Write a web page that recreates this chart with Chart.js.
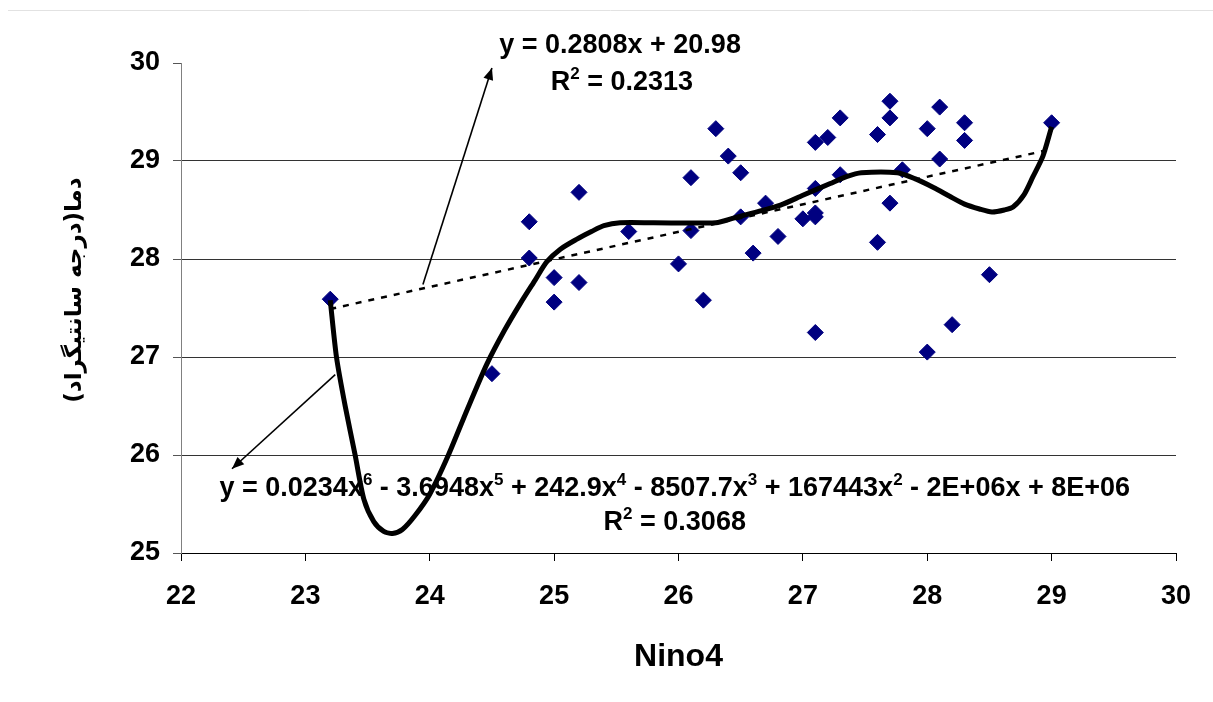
<!DOCTYPE html>
<html><head><meta charset="utf-8">
<script src="https://cdn.jsdelivr.net/npm/chart.js@4.4.1/dist/chart.umd.min.js"></script>
<style>html,body{margin:0;padding:0;background:#fff;}#wrap{width:1213px;height:702px;position:relative;}</style>
</head><body><div id="wrap"><canvas id="c" width="1213" height="702"></canvas></div>
<script>
// ---- data ----
const nino4 = [23.2,24.5,24.8,24.8,25.0,25.0,25.2,25.2,25.6,26.0,26.1,26.1,26.2,26.3,26.4,26.5,26.5,26.6,26.7,26.8,27.0,27.1,27.1,27.1,27.1,27.1,27.2,27.3,27.3,27.6,27.6,27.7,27.7,27.7,27.8,28.0,28.0,28.1,28.1,28.2,28.3,28.3,28.5,29.0];
const temperature = [27.59,26.83,28.38,28.01,27.81,27.56,28.68,27.76,28.28,27.95,28.83,28.29,27.58,29.33,29.05,28.88,28.43,28.06,28.57,28.23,28.41,29.19,28.72,28.47,28.43,27.25,29.24,29.44,28.86,29.27,28.17,29.61,29.44,28.57,28.91,29.33,27.05,29.55,29.02,27.33,29.39,29.21,27.84,29.39];
const linearTrendX = [23.2, 29.0];
const linearTrendY = [27.49, 29.12];
const polyTrendX = [23.2,23.25,23.32,23.4,23.47,23.55,23.63,23.7,23.78,23.88,24.0,24.15,24.3,24.46,24.6,24.73,24.85,24.94,25.05,25.18,25.3,25.4,25.53,25.8,26.3,26.45,26.6,26.82,27.0,27.22,27.35,27.47,27.76,27.9,28.05,28.18,28.3,28.42,28.52,28.62,28.69,28.78,28.85,28.93,29.0];
const polyTrendY = [27.58,27.0,26.5,26.0,25.55,25.32,25.22,25.2,25.24,25.38,25.6,26.0,26.46,26.93,27.27,27.55,27.79,27.97,28.1,28.2,28.28,28.34,28.37,28.37,28.37,28.42,28.47,28.55,28.65,28.77,28.84,28.88,28.88,28.82,28.73,28.64,28.56,28.51,28.48,28.5,28.53,28.66,28.84,29.05,29.35];
const xTickLabels = ['22','23','24','25','26','27','28','29','30'];
const yTickLabels = ['25','26','27','28','29','30'];
const xTitle = 'Nino4';
const yTitle = 'دما(درجه سانتیگراد)';
const linearEquation = [['y = 0.2808x + 20.98']];
const linearR2 = [['R'],['2','sup'],[' = 0.2313']];
const polyEquation = [['y = 0.0234x'],['6','sup'],[' - 3.6948x'],['5','sup'],[' + 242.9x'],['4','sup'],[' - 8507.7x'],['3','sup'],[' + 167443x'],['2','sup'],[' - 2E+06x + 8E+06']];
const polyR2 = [['R'],['2','sup'],[' = 0.3068']];

const toPts = (xs, ys) => xs.map((x, i) => ({x: x, y: ys[i]}));
const FONT = '"Liberation Sans", Arial, sans-serif';

function drawRich(ctx, segs, cx, cy, size) {
  const nf = 'bold ' + size + 'px ' + FONT;
  const sf = 'bold ' + Math.round(size * 0.62) + 'px ' + FONT;
  let total = 0;
  segs.forEach(s => { ctx.font = s[1] ? sf : nf; total += ctx.measureText(s[0]).width; });
  let x = cx - total / 2;
  ctx.textAlign = 'left';
  ctx.textBaseline = 'middle';
  segs.forEach(s => {
    ctx.font = s[1] ? sf : nf;
    ctx.fillText(s[0], x, s[1] ? cy - size * 0.3 : cy);
    x += ctx.measureText(s[0]).width;
  });
}
function arrow(ctx, x1, y1, x2, y2) {
  ctx.beginPath(); ctx.moveTo(x1, y1); ctx.lineTo(x2, y2); ctx.stroke();
  const a = Math.atan2(y2 - y1, x2 - x1), L = 12, W = 5;
  ctx.beginPath();
  ctx.moveTo(x2, y2);
  ctx.lineTo(x2 - L * Math.cos(a) + W * Math.sin(a), y2 - L * Math.sin(a) - W * Math.cos(a));
  ctx.lineTo(x2 - L * Math.cos(a) - W * Math.sin(a), y2 - L * Math.sin(a) + W * Math.cos(a));
  ctx.closePath(); ctx.fill();
}

const annot = {
  id: 'annot',
  beforeDraw(chart) {
    const ctx = chart.ctx;
    ctx.save();
    ctx.fillStyle = '#fff'; ctx.fillRect(0, 0, chart.width, chart.height);
    ctx.strokeStyle = '#e2e2e2'; ctx.lineWidth = 1;
    ctx.beginPath(); ctx.moveTo(8, 10.5); ctx.lineTo(chart.width, 10.5); ctx.stroke();
    ctx.restore();
  },
  afterDraw(chart) {
    const ctx = chart.ctx, xs = chart.scales.x, ys = chart.scales.y;
    const px = v => xs.getPixelForValue(v), py = v => ys.getPixelForValue(v);
    ctx.save();
    ctx.fillStyle = '#000'; ctx.strokeStyle = '#000'; ctx.lineWidth = 1.6;
    arrow(ctx, px(23.945), py(27.74), px(24.5), py(29.95));
    arrow(ctx, px(23.24), py(26.82), px(22.41), py(25.86));
    drawRich(ctx, linearEquation, px(25.53), py(30.18), 27);
    drawRich(ctx, linearR2, px(25.545), py(29.8), 27);
    drawRich(ctx, polyEquation, px(25.97), py(25.66), 27);
    drawRich(ctx, polyR2, px(25.97), py(25.31), 27);
    // y axis title
    ctx.translate(75, 290);
    ctx.rotate(-Math.PI / 2);
    ctx.font = 'bold 23px "DejaVu Sans", sans-serif';
    ctx.direction = 'rtl';
    ctx.textAlign = 'center';
    ctx.textBaseline = 'middle';
    ctx.fillText(yTitle, 0, 0);
    ctx.restore();
  }
};

new Chart(document.getElementById('c'), {
  type: 'scatter',
  data: {
    datasets: [
      { label: 'poly', type: 'line', data: toPts(polyTrendX, polyTrendY), borderColor: '#000', borderWidth: 5, pointRadius: 0, tension: 0.25, fill: false, order: 0 },
      { label: 'linear', type: 'line', data: toPts(linearTrendX, linearTrendY), borderColor: '#000', borderWidth: 2.5, borderDash: [6, 7], pointRadius: 0, fill: false, order: 1 },
      { label: 'data', data: toPts(nino4, temperature), pointStyle: 'rectRot', pointRadius: 8, pointBackgroundColor: '#000080', pointBorderColor: '#000080', pointBorderWidth: 1, order: 2 }
    ]
  },
  options: {
    responsive: false,
    animation: false,
    devicePixelRatio: 1,
    layout: { padding: { top: 63, right: 37, left: 0, bottom: 0 } },
    plugins: { legend: { display: false }, tooltip: { enabled: false } },
    scales: {
      x: {
        type: 'linear', min: 22, max: 30,
        afterFit: s => { s.height = 149; },
        ticks: { stepSize: 1, padding: 19, color: '#000', font: { family: FONT, size: 27, weight: 'bold' },
          callback: (v) => xTickLabels[Math.round(v - 22)] },
        grid: { drawOnChartArea: false, tickLength: 8, tickColor: '#000', color: '#000' },
        border: { color: '#000', width: 1 },
        title: { display: true, text: xTitle, color: '#000', font: { family: FONT, size: 32, weight: 'bold' }, padding: { top: 0, bottom: 26 } }
      },
      y: {
        type: 'linear', min: 25, max: 30,
        afterFit: s => { s.width = 181; },
        ticks: { stepSize: 1, padding: 13, color: '#000', font: { family: FONT, size: 27, weight: 'bold' },
          callback: (v) => yTickLabels[Math.round(v - 25)] },
        grid: { tickLength: 8, tickColor: '#555', lineWidth: 1,
          color: c => (c.tick && (c.tick.value === 30 || c.tick.value === 25)) ? 'rgba(0,0,0,0)' : '#333' },
        border: { color: '#808080', width: 1 }
      }
    }
  },
  plugins: [annot]
});
</script></body></html>
